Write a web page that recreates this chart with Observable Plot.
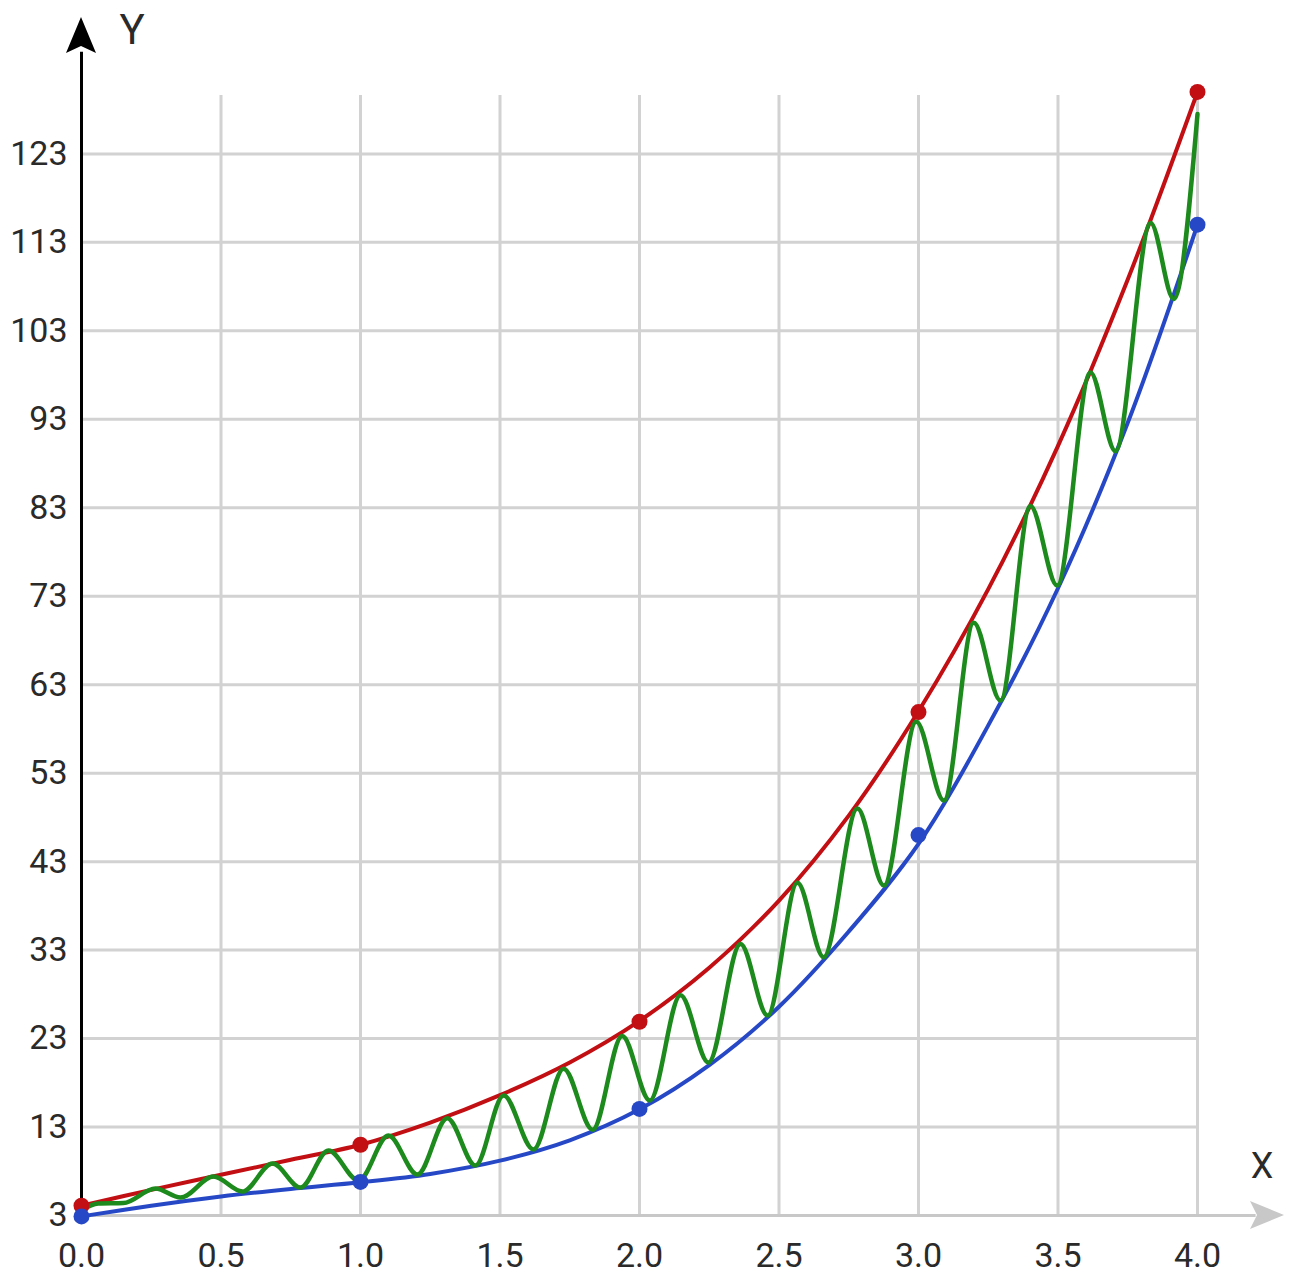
<!DOCTYPE html>
<html>
<head>
<meta charset="utf-8">
<script src="https://cdn.jsdelivr.net/npm/d3@7"></script>
<script src="https://cdn.jsdelivr.net/npm/@observablehq/plot@0.6"></script>
<style>
  html, body { margin: 0; padding: 0; background: #ffffff; }
  #chart { width: 1290px; height: 1276px; }
</style>
</head>
<body>
<div id="chart"></div>
<script>
// ---- data ----
const xTicks = [0, 0.5, 1, 1.5, 2, 2.5, 3, 3.5, 4];
const yTicks = [3, 13, 23, 33, 43, 53, 63, 73, 83, 93, 103, 113, 123];

// upper (red) curve samples
const redX = [0, 0.25, 0.5, 0.75, 1, 1.25, 1.5, 1.75, 2, 2.25, 2.5, 2.75, 3, 3.25, 3.5, 3.75, 4];
const redY = [4.1, 5.9, 7.6, 9.3, 11.0, 13.5, 16.6, 20.3, 25.0, 31.0, 38.6, 48.2, 60.0, 73.8, 90.0, 108.8, 130.0];

// lower (blue) curve samples
const blueX = [0, 0.25, 0.5, 0.75, 1, 1.25, 1.5, 1.75, 2, 2.25, 2.5, 2.75, 3, 3.25, 3.5, 3.75, 4];
const blueY = [2.9, 4.1, 5.15, 6.0, 6.75, 7.7, 9.2, 11.5, 15.0, 20.0, 26.6, 35.1, 45.0, 58.4, 73.9, 92.6, 115.0];

// marked points
const dotX = [0, 1, 2, 3, 4];
const redDotY = [4.1, 11.0, 24.9, 59.9, 130.0];
const blueDotY = [2.9, 6.8, 15.05, 46.0, 115.0];

// oscillating (green) curve: start, extrema, end
const greenX = [0, 0.06, 0.15, 0.265, 0.355, 0.473, 0.577, 0.685, 0.785, 0.885, 0.993, 1.10, 1.204, 1.311, 1.412, 1.513, 1.62, 1.728, 1.832, 1.938, 2.037, 2.147, 2.247, 2.362, 2.459, 2.566, 2.66, 2.781, 2.876, 2.992, 3.091, 3.198, 3.294, 3.401, 3.497, 3.616, 3.706, 3.832, 3.915, 4.0];
const greenY = [3.6, 4.35, 4.4, 6.05, 5.03, 7.41, 5.71, 8.88, 6.16, 10.34, 6.95, 12.04, 7.63, 14.0, 8.65, 16.56, 10.46, 19.6, 12.7, 23.3, 16.0, 27.9, 20.3, 33.7, 25.6, 40.6, 32.2, 49.0, 40.3, 58.8, 49.9, 70.0, 61.2, 83.2, 74.2, 98.3, 89.4, 115.2, 106.6, 127.5];

const RED = "#c20f14", BLUE = "#2748c6", GREEN = "#1c8a1c", GRID = "#d2d2d2";

const red = redX.map((x, i) => ({x, y: redY[i]}));
const blue = blueX.map((x, i) => ({x, y: blueY[i]}));
const green = greenX.map((x, i) => ({x, y: greenY[i]}));
const redDots = dotX.map((x, i) => ({x, y: redDotY[i]}));
const blueDots = dotX.map((x, i) => ({x, y: blueDotY[i]}));

const plot = Plot.plot({
  width: 1290,
  height: 1276,
  marginLeft: 81,
  marginRight: 93,
  marginTop: 95,
  marginBottom: 61,
  x: {domain: [0, 4]},
  y: {domain: [3, 129.6]},
  style: {fontFamily: "Roboto, 'Noto Sans', sans-serif", fontSize: "34px", color: "#333", background: "#fff", overflow: "visible"},
  marks: [
    Plot.gridX(xTicks, {stroke: GRID, strokeOpacity: 1, strokeWidth: 3}),
    Plot.gridY(yTicks, {stroke: GRID, strokeOpacity: 1, strokeWidth: 3}),
    Plot.axisX(xTicks, {tickSize: 0, tickPadding: 27, tickFormat: d => d.toFixed(1), label: null, fill: "#2a2a2a"}),
    Plot.axisY(yTicks, {tickSize: 0, tickPadding: 14, label: null, fill: "#2a2a2a"}),
    Plot.ruleY([3], {x1: 0, x2: 4.21, stroke: "#c8c8c8", strokeWidth: 3}),
    Plot.ruleX([0], {y1: 3, y2: 134.5, stroke: "#000", strokeWidth: 3}),
    Plot.line(red, {x: "x", y: "y", curve: "catmull-rom", stroke: RED, strokeWidth: 4}),
    Plot.line(blue, {x: "x", y: "y", curve: "catmull-rom", stroke: BLUE, strokeWidth: 4}),
    Plot.line(green, {x: "x", y: "y", curve: "monotone-x", stroke: GREEN, strokeWidth: 4.5}),
    Plot.dot(redDots, {x: "x", y: "y", r: 8, fill: RED, stroke: "none"}),
    Plot.dot(blueDots, {x: "x", y: "y", r: 8, fill: BLUE, stroke: "none"})
  ]
});

document.getElementById("chart").appendChild(plot);

// axis arrowheads and axis names
const sx = plot.scale("x"), sy = plot.scale("y");
const svg = d3.select(plot);
const ax = sx.apply(0), ay = sy.apply(3);
// Y arrow (black, upward)
const yTip = ay - 1198;
svg.append("path")
  .attr("d", `M${ax},${yTip} L${ax + 15},${yTip + 36} L${ax},${yTip + 29} L${ax - 15},${yTip + 36} Z`)
  .attr("fill", "#000");
// X arrow (grey, rightward)
const xTip = sx.apply(4) + 87;
svg.append("path")
  .attr("d", `M${xTip},${ay} L${xTip - 34},${ay - 14} L${xTip - 27},${ay} L${xTip - 34},${ay + 14} Z`)
  .attr("fill", "#c8c8c8");
svg.append("text")
  .attr("x", ax + 51).attr("y", yTip + 27)
  .attr("text-anchor", "middle")
  .attr("font-size", 42).attr("fill", "#2a2a2a")
  .text("Y");
svg.append("text")
  .attr("x", xTip - 22).attr("y", ay - 37)
  .attr("text-anchor", "middle")
  .attr("font-size", 36).attr("fill", "#2a2a2a")
  .text("X");
</script>
</body>
</html>
